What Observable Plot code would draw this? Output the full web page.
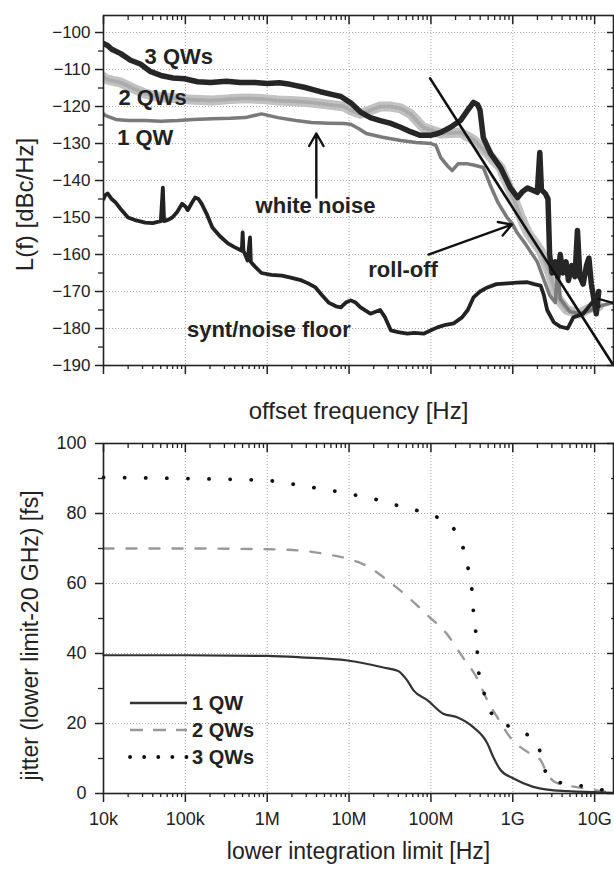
<!DOCTYPE html>
<html><head><meta charset="utf-8">
<script src="https://cdn.jsdelivr.net/npm/d3@7"></script>
<script src="https://cdn.jsdelivr.net/npm/@observablehq/plot@0.6"></script>
<style>
body{margin:0;background:#fff;}
#chart{position:relative;width:614px;height:869px;overflow:hidden;font-family:"Liberation Sans",Arial,sans-serif;}
#chart svg{display:block;}
</style></head><body><div id="chart"></div>
<script>
// ---- tick values / labels ----
const decadeTicks = [1e4, 1e5, 1e6, 1e7, 1e8, 1e9, 1e10];
const decadeLabels = ["10k", "100k", "1M", "10M", "100M", "1G", "10G"];
const topYTicks = [-190, -180, -170, -160, -150, -140, -130, -120, -110, -100];
const topYMinor = [-185, -175, -165, -155, -145, -135, -125, -115, -105];
const botYTicks = [0, 20, 40, 60, 80, 100];
const botYMinor = [10, 30, 50, 70, 90];

// ---- phase noise traces: [log10(offset frequency / Hz), L(f) dBc/Hz] ----
const qw3Noise = [[4.00,-103],[4.05,-103.5],[4.10,-104.5],[4.21,-105.7],[4.33,-107.5],[4.45,-108.5],[4.57,-110.5],[4.70,-111.6],[4.85,-112.3],[4.99,-112.5],[5.15,-113.3],[5.31,-113.5],[5.50,-113.2],[5.67,-113.5],[5.85,-113.5],[6.00,-113.8],[6.15,-113.6],[6.28,-114],[6.45,-114.8],[6.65,-116],[6.80,-116.8],[6.90,-117.3],[7.02,-119],[7.14,-121.5],[7.26,-123],[7.38,-123.8],[7.50,-124.5],[7.63,-125.6],[7.75,-126.8],[7.87,-127.8],[7.99,-127.8],[8.05,-127.5],[8.12,-127],[8.24,-125.6],[8.36,-123.8],[8.45,-121],[8.52,-118.9],[8.57,-119.5],[8.60,-121],[8.64,-128.4],[8.73,-132.7],[8.85,-136.5],[8.97,-142],[9.06,-144.6],[9.12,-143],[9.18,-142],[9.30,-143.2],[9.33,-132.4],[9.35,-142.5],[9.40,-143.6],[9.43,-145],[9.45,-160],[9.48,-165],[9.52,-162],[9.55,-166],[9.58,-160],[9.61,-165],[9.65,-162],[9.68,-167],[9.72,-163],[9.76,-166],[9.79,-153.5],[9.82,-166],[9.86,-168],[9.90,-163],[9.93,-161],[9.96,-168],[9.99,-172],[10.02,-176],[10.05,-170]];
const qw2Noise = [[4.00,-112],[4.02,-112.5],[4.10,-113],[4.21,-113.5],[4.35,-115],[4.51,-116.5],[4.70,-117.5],[4.91,-117.8],[5.10,-118.2],[5.33,-118.4],[5.55,-118],[5.73,-117.8],[5.95,-118],[6.13,-118.4],[6.35,-118.6],[6.54,-118.9],[6.75,-119.5],[6.94,-120],[7.02,-121],[7.14,-122],[7.26,-121],[7.38,-120],[7.50,-120],[7.63,-120.5],[7.75,-122],[7.90,-125.6],[8.12,-127.3],[8.36,-127],[8.52,-129],[8.69,-132.7],[8.85,-136.5],[8.97,-142.7],[9.03,-146],[9.10,-150],[9.18,-154],[9.34,-159],[9.45,-165],[9.54,-171.6],[9.66,-175],[9.82,-176],[9.98,-174],[10.05,-174]];
const qw1Noise = [[4.00,-122],[4.02,-122.4],[4.15,-123.5],[4.30,-123.8],[4.51,-123.8],[4.70,-124],[4.91,-123.8],[5.10,-123.5],[5.33,-123.3],[5.55,-123.2],[5.73,-123],[5.93,-122],[6.13,-123],[6.35,-123.8],[6.54,-124.3],[6.75,-124.5],[6.94,-124.6],[7.02,-124.8],[7.12,-126],[7.21,-127.3],[7.41,-128.3],[7.63,-129.2],[7.82,-129.7],[8.00,-130],[8.06,-130.5],[8.12,-133.8],[8.20,-136],[8.26,-137.3],[8.33,-135.5],[8.45,-135.5],[8.52,-135.8],[8.64,-136.5],[8.72,-141],[8.82,-146],[8.93,-150],[8.99,-151.5],[9.05,-154],[9.15,-157],[9.30,-162],[9.40,-168],[9.45,-171],[9.52,-173],[9.55,-163.5],[9.58,-172],[9.70,-175.5],[9.82,-176],[9.96,-175],[10.05,-174],[10.23,-173]];
const floorNoise = [[4.00,-145],[4.02,-144],[4.05,-143.5],[4.10,-145],[4.15,-146],[4.22,-148],[4.30,-150],[4.40,-150.8],[4.51,-151.4],[4.60,-151.5],[4.70,-151],[4.725,-141.9],[4.74,-151],[4.80,-150.5],[4.84,-150],[4.90,-148.5],[4.96,-146.3],[5.00,-147],[5.03,-148],[5.08,-146],[5.12,-144.6],[5.16,-145],[5.20,-146.3],[5.26,-149],[5.33,-152.7],[5.42,-155],[5.52,-157],[5.60,-158],[5.69,-159],[5.70,-154],[5.71,-159],[5.76,-161.6],[5.79,-155.4],[5.80,-162],[5.86,-163.5],[5.93,-165],[6.05,-165.5],[6.18,-165.7],[6.30,-166.3],[6.42,-167],[6.50,-167.8],[6.59,-168.9],[6.67,-171],[6.75,-173],[6.84,-174],[6.90,-174.3],[6.96,-173],[7.02,-172.4],[7.08,-173],[7.14,-174.3],[7.26,-176],[7.38,-175],[7.44,-177],[7.51,-180.5],[7.60,-181],[7.71,-181.4],[7.80,-181.2],[7.91,-181.4],[8.00,-180.5],[8.08,-179.7],[8.18,-179],[8.28,-178.6],[8.38,-177],[8.45,-175],[8.52,-171.6],[8.60,-170],[8.69,-168.9],[8.80,-168],[8.94,-167.8],[9.05,-167.6],[9.18,-167.5],[9.26,-168],[9.34,-168.4],[9.38,-171],[9.42,-175],[9.50,-178.3],[9.58,-179.5],[9.67,-180],[9.74,-177],[9.86,-176],[9.99,-172.4],[10.05,-174]];
// roll-off asymptote, annotation arrows and a pointer line [x1, y1, x2, y2] in (log10 Hz, dBc/Hz)
const rollOffLine = [[7.99,-112.4],[10.23,-190]];
const arrowsTop = [[6.60,-144.6,6.60,-127.3],[7.97,-160.0,8.99,-151.9]];
const pointerTop = [[10.03,-171.9,10.24,-173.2]];
const labelsTop = [
  {text:"3 QWs", l:4.92, v:-106.5},
  {text:"2 QWs", l:4.60, v:-117.8},
  {text:"1 QW", l:4.51, v:-128.6},
  {text:"white noise", l:6.59, v:-146.8},
  {text:"roll-off", l:7.66, v:-164.3},
  {text:"synt/noise floor", l:6.02, v:-180.5}
];

// ---- jitter traces: [log10(lower integration limit / Hz), jitter fs] ----
const jitter1 = [[4.0,39.5],[5.0,39.5],[6.0,39.3],[6.41,38.9],[6.98,38],[7.42,36],[7.60,35],[7.71,32.3],[7.79,29.4],[7.96,26.6],[8.15,22.8],[8.32,21.8],[8.52,18.9],[8.69,14.3],[8.76,10.5],[8.85,6.7],[9.01,4.3],[9.25,1.9],[9.42,1.1],[9.67,0.7],[9.99,0.4],[10.23,0.2]];
const jitter2 = [[4.0,70],[5.0,70],[6.0,69.8],[6.41,69.4],[6.69,68.5],[6.98,67.1],[7.25,64.6],[7.47,60.9],[7.74,55.7],[7.96,50.9],[8.19,45.7],[8.39,38.9],[8.56,33.1],[8.69,26.6],[8.81,21.8],[8.97,16],[9.21,11.4],[9.34,9.5],[9.42,5.7],[9.52,3.2],[9.67,2.3],[9.91,1.3],[10.2,0.3]];
const jitter3 = [[4.0,90.3],[5.0,90],[6.0,89.4],[6.41,88],[6.98,85.7],[7.38,83.7],[7.59,82.3],[7.91,80.3],[8.08,78.9],[8.26,76.2],[8.36,72.3],[8.42,68],[8.46,63.7],[8.49,60],[8.51,55.7],[8.52,51.4],[8.54,47.6],[8.56,43.3],[8.57,38.9],[8.58,35.2],[8.63,30.9],[8.67,26.6],[8.73,23.3],[8.83,20.9],[8.97,19],[9.13,17.4],[9.30,14.3],[9.35,10.4],[9.40,6.2],[9.50,3.3],[9.68,2.9],[9.85,2.1],[10.01,1.3],[10.2,0.8]];
const legendNames = ["1 QW", "2 QWs", "3 QWs"];

// ---- helpers ----
const pts = arr => arr.map(([l, v]) => ({f: 10 ** l, v}));
const minorX = [];
for (let e = 4; e <= 10; e++) for (let m = 2; m <= 9; m++) { const t = m * 10 ** e; if (t <= 1.7e10) minorX.push(t); }
const FONT = "Liberation Sans, Arial, sans-serif";
const ink = "#222";
const grid = {stroke: "#9a9a9a", strokeOpacity: 1, strokeDasharray: "1,2", strokeWidth: 0.9};
const labelMap = new Map(decadeTicks.map((t, i) => [t, decadeLabels[i]]));
const seg = {x1: d => 10 ** d[0], y1: d => d[1], x2: d => 10 ** d[2], y2: d => d[3]};

// ---- top panel ----
const topPlot = Plot.plot({
  width: 614, height: 425, marginLeft: 103, marginRight: 1, marginTop: 15, marginBottom: 60,
  style: {fontFamily: FONT, fontSize: "17px", color: ink, background: "#fff"},
  x: {type: "log", domain: [1e4, 1.7e10]},
  y: {domain: [-190, -95.4]},
  marks: [
    Plot.gridX(decadeTicks.slice(1), grid),
    Plot.gridY(topYTicks.slice(1), grid),
    Plot.line(pts(qw2Noise), {x: "f", y: "v", stroke: "#c2c2c2", strokeWidth: 10, strokeLinejoin: "round", clip: "frame"}),
    Plot.line(pts(qw2Noise), {x: "f", y: "v", stroke: "#ababab", strokeWidth: 4, strokeDasharray: "1,3", clip: "frame"}),
    Plot.line(pts(qw1Noise), {x: "f", y: "v", stroke: "#7a7a7a", strokeWidth: 3.5, strokeLinejoin: "round", clip: "frame"}),
    Plot.line(pts(qw3Noise), {x: "f", y: "v", stroke: "#262626", strokeWidth: 5.5, strokeLinejoin: "round", clip: "frame"}),
    Plot.line(pts(floorNoise), {x: "f", y: "v", stroke: "#222", strokeWidth: 3.8, strokeLinejoin: "round", clip: "frame"}),
    Plot.line(pts(rollOffLine), {x: "f", y: "v", stroke: "#111", strokeWidth: 2.6, clip: "frame"}),
    Plot.arrow(arrowsTop, {...seg, stroke: "#111", strokeWidth: 2.4, headLength: 9}),
    Plot.link(pointerTop, {...seg, stroke: "#111", strokeWidth: 2.2}),
    Plot.text(labelsTop, {x: d => 10 ** d.l, y: "v", text: "text", fontWeight: "bold", fontSize: 22, fill: ink}),
    Plot.frame({stroke: ink, strokeWidth: 1.6}),
    Plot.axisX({anchor: "bottom", ticks: decadeTicks, tickSize: 9, tickFormat: () => "", label: null, strokeWidth: 1.5}),
    Plot.axisX({anchor: "bottom", ticks: minorX, tickSize: 4, tickFormat: () => "", label: null, strokeWidth: 1.3}),
    Plot.axisX({anchor: "top", ticks: decadeTicks, tickSize: -8, tickFormat: () => "", label: null, strokeWidth: 1.5}),
    Plot.axisX({anchor: "top", ticks: minorX, tickSize: -4, tickFormat: () => "", label: null, strokeWidth: 1.3}),
    Plot.axisY({anchor: "left", ticks: topYTicks, tickSize: 8, tickPadding: 5, fontSize: 17, label: null, strokeWidth: 1.5}),
    Plot.axisY({anchor: "left", ticks: topYMinor, tickSize: 5, tickFormat: () => "", label: null, strokeWidth: 1.3}),
    Plot.axisY({anchor: "right", ticks: topYTicks, tickSize: -7, tickFormat: () => "", label: null, strokeWidth: 1.5}),
    Plot.axisY({anchor: "right", ticks: topYMinor, tickSize: -3, tickFormat: () => "", label: null, strokeWidth: 1.3}),
    Plot.text(["L(f) [dBc/Hz]"], {frameAnchor: "left", text: d => d, rotate: -90, textAnchor: "middle", lineAnchor: "middle", dx: -78, dy: 14, fontSize: 24, fill: ink}),
    Plot.text(["offset frequency [Hz]"], {frameAnchor: "bottom", text: d => d, textAnchor: "middle", lineAnchor: "middle", dy: 46, fontSize: 24, fill: ink})
  ]
});

// ---- bottom panel ----
const bottomPlot = Plot.plot({
  width: 614, height: 444, marginLeft: 103, marginRight: 1, marginTop: 18, marginBottom: 76,
  style: {fontFamily: FONT, fontSize: "18px", color: ink, background: "#fff"},
  x: {type: "log", domain: [1e4, 1.7e10]},
  y: {domain: [0, 100]},
  marks: [
    Plot.gridX(decadeTicks.slice(1), grid),
    Plot.gridY(botYTicks.slice(1, -1), grid),
    Plot.line(pts(jitter2), {x: "f", y: "v", stroke: "#999", strokeWidth: 2.4, strokeDasharray: "10,13", curve: "monotone-x"}),
    Plot.line(pts(jitter3), {x: "f", y: "v", stroke: "#111", strokeWidth: 3.8, strokeDasharray: "0.1,21", strokeLinecap: "round", curve: "monotone-x"}),
    Plot.line(pts(jitter1), {x: "f", y: "v", stroke: "#333", strokeWidth: 2.2, curve: "monotone-x"}),
    Plot.frame({stroke: ink, strokeWidth: 1.6}),
    Plot.axisX({anchor: "bottom", ticks: decadeTicks, tickSize: 9, tickPadding: 10, tickFormat: d => labelMap.get(d), fontSize: 18, label: null, strokeWidth: 1.5}),
    Plot.axisX({anchor: "bottom", ticks: minorX, tickSize: 4, tickFormat: () => "", label: null, strokeWidth: 1.3}),
    Plot.axisX({anchor: "top", ticks: decadeTicks, tickSize: -8, tickFormat: () => "", label: null, strokeWidth: 1.5}),
    Plot.axisX({anchor: "top", ticks: minorX, tickSize: -4, tickFormat: () => "", label: null, strokeWidth: 1.3}),
    Plot.axisY({anchor: "left", ticks: botYTicks, tickSize: 8, tickPadding: 9, fontSize: 18, label: null, strokeWidth: 1.5}),
    Plot.axisY({anchor: "left", ticks: botYMinor, tickSize: 5, tickFormat: () => "", label: null, strokeWidth: 1.3}),
    Plot.axisY({anchor: "right", ticks: botYTicks, tickSize: -7, tickFormat: () => "", label: null, strokeWidth: 1.5}),
    Plot.axisY({anchor: "right", ticks: botYMinor, tickSize: -3, tickFormat: () => "", label: null, strokeWidth: 1.3}),
    Plot.text(["jitter (lower limit-20 GHz) [fs]"], {frameAnchor: "left", text: d => d, rotate: -90, textAnchor: "middle", lineAnchor: "middle", dx: -73, dy: 17, fontSize: 23, fill: ink}),
    Plot.text(["lower integration limit [Hz]"], {frameAnchor: "bottom", text: d => d, textAnchor: "middle", lineAnchor: "middle", dy: 58, fontSize: 23, fill: ink})
  ]
});

// legend inside the lower panel
const legendStyles = [
  {stroke: "#333", width: 2.4, dash: null, cap: "butt"},
  {stroke: "#999", width: 2.4, dash: "13,10", cap: "butt"},
  {stroke: "#111", width: 3.8, dash: "0.1,14", cap: "round"}
];
const lg = d3.select(bottomPlot).append("g").attr("font-family", FONT);
legendNames.forEach((name, i) => {
  const y = 278 + i * 27;
  const s = legendStyles[i];
  lg.append("line").attr("x1", 130).attr("x2", 187).attr("y1", y).attr("y2", y)
    .attr("stroke", s.stroke).attr("stroke-width", s.width).attr("stroke-dasharray", s.dash).attr("stroke-linecap", s.cap);
  lg.append("text").attr("x", 192).attr("y", y).attr("dy", "0.36em").attr("font-size", 20)
    .attr("text-anchor", "start").attr("font-weight", "bold").attr("fill", ink).text(name);
});

document.getElementById("chart").append(topPlot, bottomPlot);
</script></body></html>
